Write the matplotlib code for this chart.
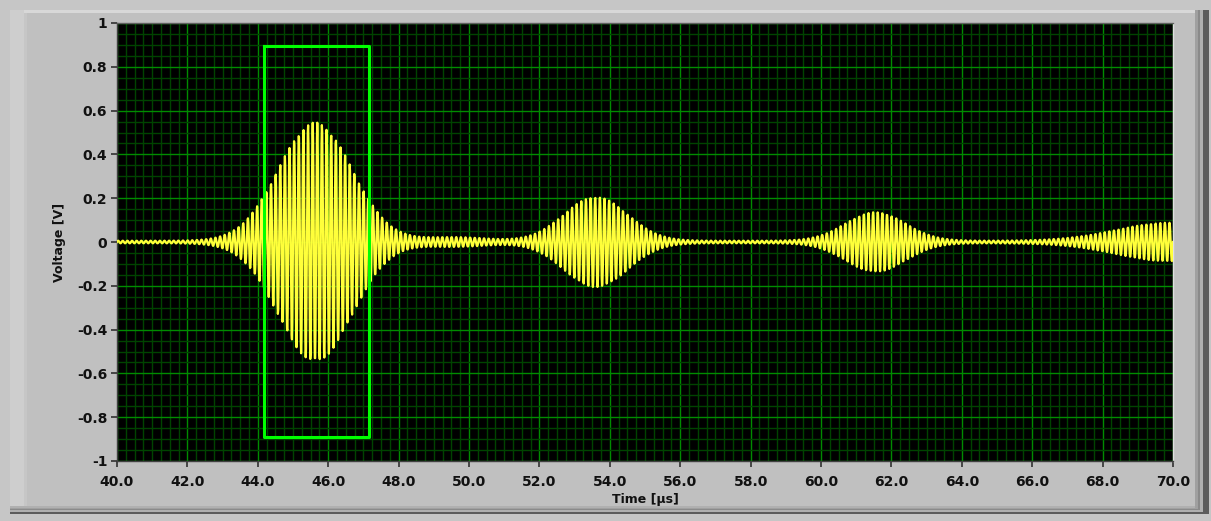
import numpy as np
import matplotlib
matplotlib.use("Agg")
import matplotlib.pyplot as plt
from matplotlib.patches import Rectangle
from matplotlib.ticker import MultipleLocator, FormatStrFormatter

# Ultrasonic echo train: Gaussian-enveloped bursts on a carrier
burst_center_us = [45.63, 49.6, 53.6, 61.55, 69.9]
burst_peak_v = [0.54, 0.016, 0.20, 0.13, 0.082]
burst_sigma_us = [1.05, 0.9, 0.9, 0.85, 1.5]
baseline_v = 0.006
carrier_mhz = 7.6
sample_step_us = 0.01
t_start_us, t_end_us = 40.0, 70.0

# Gate window drawn over the first echo
gate_t_us = [44.17, 47.17]
gate_v = [-0.89, 0.895]

x_ticks = [40.0, 42.0, 44.0, 46.0, 48.0, 50.0, 52.0, 54.0, 56.0, 58.0,
           60.0, 62.0, 64.0, 66.0, 68.0, 70.0]
y_ticks = [-1, -0.8, -0.6, -0.4, -0.2, 0, 0.2, 0.4, 0.6, 0.8, 1]
y_tick_labels = ["-1", "-0.8", "-0.6", "-0.4", "-0.2", "0",
                 "0.2", "0.4", "0.6", "0.8", "1"]

t = np.arange(t_start_us, t_end_us + sample_step_us / 2, sample_step_us)
env = np.full_like(t, baseline_v)
for c, a, s in zip(burst_center_us, burst_peak_v, burst_sigma_us):
    env += a * np.exp(-((t - c) ** 2) / (2 * s ** 2))
v = env * np.sin(2 * np.pi * carrier_mhz * t)

W, H = 1211, 521
fig = plt.figure(figsize=(W / 100, H / 100), dpi=100, facecolor="#c6c6c6")


def px_rect(x0, y0, x1, y1, color, z=0):
    fig.patches.append(Rectangle((x0 / W, 1 - y1 / H), (x1 - x0) / W,
                                 (y1 - y0) / H, transform=fig.transFigure,
                                 facecolor=color, edgecolor="none",
                                 zorder=z - 20))


# raised panel frame
px_rect(10, 10, 1209, 514, "#5c5c5c", 0)
px_rect(10, 10, 1203, 512, "#b0b0b0", 1)
px_rect(10, 10, 1200, 510, "#8a8a8a", 2)
px_rect(10, 10, 1198, 509, "#a0a0a0", 3)
px_rect(10, 10, 1195, 508, "#c0c0c0", 4)
px_rect(10, 10, 1195, 13, "#d8d8d8", 5)
px_rect(10, 10, 24, 508, "#cecece", 5)
px_rect(24, 13, 27, 508, "#c6c6c6", 5)
px_rect(10, 506, 1195, 508, "#b0b0b0", 5)

ax = fig.add_axes([117 / W, 1 - 461 / H, (1173 - 117) / W, (461 - 23) / H])
ax.set_zorder(5)
ax.set_facecolor("#000000")
ax.set_xlim(t_start_us, t_end_us)
ax.set_ylim(-1, 1)

ax.xaxis.set_major_locator(MultipleLocator(2.0))
ax.xaxis.set_minor_locator(MultipleLocator(0.25))
ax.yaxis.set_major_locator(MultipleLocator(0.2))
ax.yaxis.set_minor_locator(MultipleLocator(0.05))
ax.set_xticks(x_ticks)
ax.xaxis.set_major_formatter(FormatStrFormatter("%.1f"))
ax.set_yticks(y_ticks)
ax.set_yticklabels(y_tick_labels)

ax.grid(which="minor", color="#004400", linewidth=1.0)
ax.grid(which="major", color="#008c00", linewidth=1.0)
ax.set_axisbelow(True)

ax.plot(t, v, color="#ffff3a", linewidth=1.6, zorder=3)

gx = [gate_t_us[0], gate_t_us[1], gate_t_us[1], gate_t_us[0], gate_t_us[0]]
gy = [gate_v[1], gate_v[1], gate_v[0], gate_v[0], gate_v[1]]
ax.plot(gx, gy, color="#00ff00", linewidth=2.2, zorder=4)

for s in ax.spines.values():
    s.set_color("#404040")
    s.set_linewidth(1.0)
ax.spines["right"].set_color("#e0e0e0")
ax.spines["top"].set_color("#606060")

ax.tick_params(which="minor", length=0)
ax.tick_params(which="major", color="#303030", length=4, width=1.2,
               labelsize=10, labelcolor="#111111")
ax.tick_params(axis="x", pad=6)
ax.tick_params(axis="y", pad=3)
for lab in ax.get_xticklabels() + ax.get_yticklabels():
    lab.set_fontweight("bold")

ax.set_xlabel("Time [µs]", fontsize=9, fontweight="bold",
              color="#111111", labelpad=3)
ax.set_ylabel("Voltage [V]", fontsize=9, fontweight="bold",
              color="#111111", labelpad=8)

fig.savefig("out.png", dpi=100, facecolor=fig.get_facecolor())
